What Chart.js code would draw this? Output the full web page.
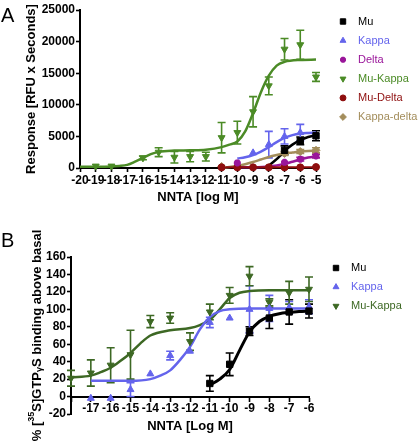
<!DOCTYPE html>
<html>
<head>
<meta charset="utf-8">
<script src="https://cdn.jsdelivr.net/npm/chart.js@4.4.1/dist/chart.umd.min.js"></script>
<style>
html,body{margin:0;padding:0;background:#fff;}
#wrap{position:relative;width:418px;height:442px;overflow:hidden;}
canvas{position:absolute;left:0;}
</style>
</head>
<body>
<div id="wrap">
<canvas id="ca" width="418" height="215" style="top:0"></canvas>
<canvas id="cb" width="418" height="227" style="top:215px"></canvas>
</div>
<script>
// ---------------- Panel A data ----------------
const A_XTICKS = [-20,-19,-18,-17,-16,-15,-14,-13,-12,-11,-10,-9,-8,-7,-6,-5];
const A_YTICKS = [0,5000,10000,15000,20000,25000];

const A_mu_x   = [-7,-6,-5];
const A_mu_y   = [2800,4300,5100];
const A_mu_err = [700,600,800];
const A_mu_fitX = [-8,-7.5,-7,-6.5,-6,-5.5,-5];
const A_mu_fitY = [400,1400,2700,3700,4400,4900,5200];

const A_kappa_x   = [-9,-8,-7,-6];
const A_kappa_y   = [2400,3700,5000,5600];
const A_kappa_err = [0,2100,1200,1300];
const A_kappa_fitX = [-10,-9.5,-9,-8.5,-8,-7.5,-7,-6.5,-6,-5.5,-5];
const A_kappa_fitY = [1500,1700,2050,2600,3300,4100,4750,5200,5450,5550,5600];

const A_delta_x   = [-10,-7,-6,-5];
const A_delta_y   = [800,900,1400,1900];
const A_delta_err = [0,0,300,300];
const A_delta_fitX = [-10,-9,-8,-7,-6.5,-6,-5.5,-5];
const A_delta_fitY = [100,120,250,650,1000,1350,1650,1850];

const A_muKappa_x   = [-19,-18,-16,-15,-14,-13,-12,-11,-10,-9,-8,-7,-6,-5];
const A_muKappa_y   = [300,300,1600,2500,1700,1800,1800,4800,5600,8900,13000,18800,19500,14400];
const A_muKappa_err = [0,0,300,700,900,800,700,2400,1800,2400,1400,1700,2300,700];
const A_muKappa_fitX = [-20,-19,-18,-17.5,-17,-16.5,-16,-15.5,-15,-14,-13,-12,-11,-10.5,-10,-9.5,-9,-8.5,-8,-7.5,-7,-6,-5];
const A_muKappa_fitY = [200,200,230,320,500,1000,1600,2200,2550,2750,2800,2900,3300,3700,4200,5800,8700,12000,14600,16200,16800,17100,17150];

const A_muDelta_x   = [-11,-10,-9,-8,-7,-6,-5];
const A_muDelta_y   = [100,100,100,100,100,100,150];
const A_muDelta_fitX = [-11,-5];
const A_muDelta_fitY = [100,100];

const A_kd_x   = [-11,-7,-6,-5];
const A_kd_y   = [250,2300,2600,2800];
const A_kd_err = [0,300,300,400];
const A_kd_fitX = [-11,-10.5,-10,-9.5,-9,-8.5,-8,-7.5,-7,-6.5,-6,-5.5,-5];
const A_kd_fitY = [50,150,350,600,950,1350,1750,2050,2300,2450,2600,2700,2750];

// ---------------- Panel B data ----------------
const B_XTICKS = [-18,-17,-16,-15,-14,-13,-12,-11,-10,-9,-8,-7,-6];
const B_YTICKS = [-20,0,20,40,60,80,100,120,140,160];

const B_mu_x   = [-11,-10,-9,-8,-7,-6];
const B_mu_y   = [15,37,75,90,97,98];
const B_mu_err = [9,13,5,12,14,8];
const B_mu_fitX = [-11,-10.5,-10,-9.5,-9,-8.5,-8,-7.5,-7,-6.5,-6];
const B_mu_fitY = [13,20,31,53,74,86,92,95,96.5,97.5,98];

const B_kappa_x   = [-17,-16,-15,-14,-13,-12,-11,-10,-9,-8,-7,-6];
const B_kappa_y   = [-2,-2,8,26,47,52,85,90,100,101,102,103];
const B_kappa_err = [0,0,8,0,5,0,6,0,27,15,7,8];
const B_kappa_fitX = [-17,-16,-15,-14,-13.5,-13,-12.5,-12,-11.5,-11,-10.5,-10,-9,-8,-7,-6];
const B_kappa_fitY = [18,18,18,20,24,30,42,57,77,91,98,100,101,101,101,101];

const B_muKappa_x   = [-18,-17,-16,-15,-14,-13,-12,-11,-10,-9,-8,-7,-6];
const B_muKappa_y   = [21,27,36,48,86,90,63,97,116,138,108,119,123];
const B_muKappa_err = [9,15,20,28,7,6,10,9,9,11,4,13,14];
const B_muKappa_fitX = [-18,-17,-16.5,-16,-15.5,-15,-14.5,-14,-13,-12,-11.5,-11,-10.5,-10,-9.5,-9,-8,-7,-6];
const B_muKappa_fitY = [22,24,28,33,41,50,61,70,76,78.5,82,88,100,113,119,121,122,122,122];

// ---------------- helpers ----------------
const FONT = '"Liberation Sans", Arial, Helvetica, sans-serif';
const C = {
  black:'#000000', blue:'#6464ec', purple:'#9a169a', greenA:'#4b8b26',
  darkred:'#8e0e0e', tan:'#a38d5b', greenB:'#3d6824'
};
function pts(xs, ys){ return xs.map((x,i)=>({x:x, y:ys[i]})); }
function ptDs(label, xs, ys, errs, color, style, r, rot){
  return {label:label, data:pts(xs,ys), errors:errs||null, legend:true,
    showLine:false, pointStyle:style, pointRadius:r, pointHoverRadius:r,
    pointRotation:rot||0, backgroundColor:color, borderColor:color,
    pointBorderWidth:style==='star'?2.5:1, clip:false, order:1};
}
function fitDs(xs, ys, color, w){
  return {data:pts(xs,ys), showLine:true, pointRadius:0, borderColor:color,
    backgroundColor:color, borderWidth:w||2.5, fill:false,
    cubicInterpolationMode:'monotone', clip:false, order:2};
}

const errorBars = {
  id:'errorBars',
  beforeDatasetsDraw(chart){
    const ctx = chart.ctx, xs = chart.scales.x, ys = chart.scales.y;
    chart.data.datasets.forEach(ds=>{
      if(!ds.errors) return;
      ctx.save();
      ctx.strokeStyle = ds.borderColor; ctx.lineWidth = 1.6;
      ds.data.forEach((p,j)=>{
        const e = ds.errors[j]; if(!e) return;
        const px = xs.getPixelForValue(p.x);
        const y1 = ys.getPixelForValue(p.y+e), y2 = ys.getPixelForValue(p.y-e);
        ctx.beginPath();
        ctx.moveTo(px,y1); ctx.lineTo(px,y2);
        ctx.moveTo(px-4,y1); ctx.lineTo(px+4,y1);
        ctx.moveTo(px-4,y2); ctx.lineTo(px+4,y2);
        ctx.stroke();
      });
      ctx.restore();
    });
  }
};

const sideLegend = {
  id:'sideLegend',
  afterDraw(chart, args, o){
    const ctx = chart.ctx;
    const items = chart.data.datasets.filter(d=>d.legend);
    items.forEach((ds,k)=>{
      const yy = o.y0 + k*o.dy;
      ctx.save();
      ctx.fillStyle = ds.backgroundColor; ctx.strokeStyle = ds.borderColor;
      ctx.lineWidth = ds.pointBorderWidth;
      Chart.helpers.drawPoint(ctx, {pointStyle:ds.pointStyle, rotation:ds.pointRotation,
        radius:ds.pointRadius*0.85, borderWidth:ds.pointBorderWidth}, o.mx, yy);
      ctx.font = '11px ' + FONT;
      ctx.textBaseline = 'middle'; ctx.textAlign = 'left';
      ctx.fillStyle = ds.borderColor;
      ctx.fillText(ds.label, o.tx, yy);
      ctx.restore();
    });
  }
};

const decor = {
  id:'decor',
  afterDraw(chart, args, o){
    const ctx = chart.ctx;
    ctx.save();
    ctx.fillStyle = '#000';
    ctx.font = '20px ' + FONT;
    ctx.textBaseline = 'alphabetic'; ctx.textAlign = 'left';
    ctx.fillText(o.letter, 1, o.letterY);
    if (o.ytitle) {
      const ca = chart.chartArea;
      const cy = (ca.top + ca.bottom)/2;
      ctx.translate(o.ytitleX, cy);
      ctx.rotate(-Math.PI/2);
      ctx.textBaseline = 'middle';
      const main = 'bold 13px ' + FONT, small = 'bold 9px ' + FONT;
      const segs = o.ytitle.map(s=>({t:s[0], f:s[1]==='m'?main:small, dy:s[2]}));
      let total = 0;
      segs.forEach(s=>{ ctx.font = s.f; s.w = ctx.measureText(s.t).width; total += s.w; });
      let x = -total/2;
      segs.forEach(s=>{ ctx.font = s.f; ctx.fillText(s.t, x, s.dy); x += s.w; });
    }
    ctx.restore();
  }
};

function axisCommon(){
  return {
    grid:{drawOnChartArea:false, color:'#000', tickColor:'#000', tickLength:4, tickWidth:1.6},
    border:{color:'#000', width:2},
  };
}
const tickFont = {family:FONT, size:12, weight:'bold'};
const titleFont = {family:FONT, size:13, weight:'bold'};

// ---------------- Chart A ----------------
new Chart(document.getElementById('ca'), {
  type:'scatter',
  data:{datasets:[
    ptDs('Mu', A_mu_x, A_mu_y, A_mu_err, C.black, 'rect', 4.5),
    ptDs('Kappa', A_kappa_x, A_kappa_y, A_kappa_err, C.blue, 'triangle', 4),
    ptDs('Delta', A_delta_x, A_delta_y, A_delta_err, C.purple, 'star', 3.5),
    ptDs('Mu-Kappa', A_muKappa_x, A_muKappa_y, A_muKappa_err, C.greenA, 'triangle', 4, 180),
    ptDs('Mu-Delta', A_muDelta_x, A_muDelta_y, null, C.darkred, 'circle', 3.5),
    ptDs('Kappa-delta', A_kd_x, A_kd_y, A_kd_err, C.tan, 'rectRot', 4),
    fitDs(A_muDelta_fitX, A_muDelta_fitY, C.darkred, 2),
    fitDs(A_delta_fitX, A_delta_fitY, C.purple, 2.5),
    fitDs(A_kd_fitX, A_kd_fitY, C.tan, 2.5),
    fitDs(A_mu_fitX, A_mu_fitY, C.black, 2.5),
    fitDs(A_kappa_fitX, A_kappa_fitY, C.blue, 2.5),
    fitDs(A_muKappa_fitX, A_muKappa_fitY, C.greenA, 2.5)
  ]},
  options:{
    responsive:false, animation:false, devicePixelRatio:1,
    layout:{padding:{left:0, top:10, right:102, bottom:0}},
    plugins:{legend:{display:false}, tooltip:{enabled:false},
      sideLegend:{mx:343, tx:358, y0:21.5, dy:19.1},
      decor:{letter:'A', letterY:22}},
    scales:{
      x:Object.assign(axisCommon(), {
        type:'linear', min:-20, max:-5,
        afterBuildTicks:s=>{ s.ticks = A_XTICKS.map(v=>({value:v})); },
        afterFit:s=>{ s.height = 47; },
        ticks:{autoSkip:false, maxRotation:0, minRotation:0, padding:1, color:'#000', font:tickFont, callback:v=>String(v)},
        title:{display:true, text:'NNTA [log M]', color:'#000', font:titleFont, padding:{top:0,bottom:10}}
      }),
      y:Object.assign(axisCommon(), {
        type:'linear', min:0, max:25000,
        afterBuildTicks:s=>{ s.ticks = A_YTICKS.map(v=>({value:v})); },
        afterFit:s=>{ s.width = 80; },
        ticks:{padding:1, color:'#000', font:tickFont, callback:v=>String(v)},
        title:{display:true, text:'Response [RFU x Seconds]', color:'#000', font:titleFont, padding:{top:24,bottom:0}}
      })
    }
  },
  plugins:[errorBars, sideLegend, decor]
});

// ---------------- Chart B ----------------
new Chart(document.getElementById('cb'), {
  type:'scatter',
  data:{datasets:[
    ptDs('Mu', B_mu_x, B_mu_y, B_mu_err, C.black, 'rect', 4.5),
    ptDs('Kappa', B_kappa_x, B_kappa_y, B_kappa_err, C.blue, 'triangle', 4),
    ptDs('Mu-Kappa', B_muKappa_x, B_muKappa_y, B_muKappa_err, C.greenB, 'triangle', 4, 180),
    fitDs(B_mu_fitX, B_mu_fitY, C.black, 3),
    fitDs(B_kappa_fitX, B_kappa_fitY, C.blue, 2.5),
    fitDs(B_muKappa_fitX, B_muKappa_fitY, C.greenB, 2.5)
  ]},
  options:{
    responsive:false, animation:false, devicePixelRatio:1,
    layout:{padding:{left:0, top:42, right:109, bottom:28}},
    plugins:{legend:{display:false}, tooltip:{enabled:false},
      sideLegend:{mx:336, tx:351, y0:53, dy:19},
      decor:{letter:'B', letterY:32, ytitleX:37,
        ytitle:[['% [','m',0],['35','s',-5],['S]GTP','m',0],['\u03B3','s',3],['S binding above basal','m',0]]}},
    scales:{
      x:Object.assign(axisCommon(), {
        type:'linear', min:-18, max:-6, position:{y:0},
        afterBuildTicks:s=>{ s.ticks = B_XTICKS.map(v=>({value:v})); },
        afterFit:s=>{ s.height = 28; },
        ticks:{autoSkip:false, maxRotation:0, minRotation:0, padding:1, color:'#000', font:tickFont,
          callback:v=>(v===-18?'':String(v))},
        title:{display:true, text:'NNTA [Log M]', color:'#000', font:titleFont, padding:{top:0,bottom:-9.5}}
      }),
      y:Object.assign(axisCommon(), {
        type:'linear', min:-20, max:160,
        afterBuildTicks:s=>{ s.ticks = B_YTICKS.map(v=>({value:v})); },
        afterFit:s=>{ s.width = 71; },
        ticks:{padding:1, color:'#000', font:tickFont, callback:v=>String(v)},
        title:{display:false}
      })
    }
  },
  plugins:[errorBars, sideLegend, decor]
});
</script>
</body>
</html>
